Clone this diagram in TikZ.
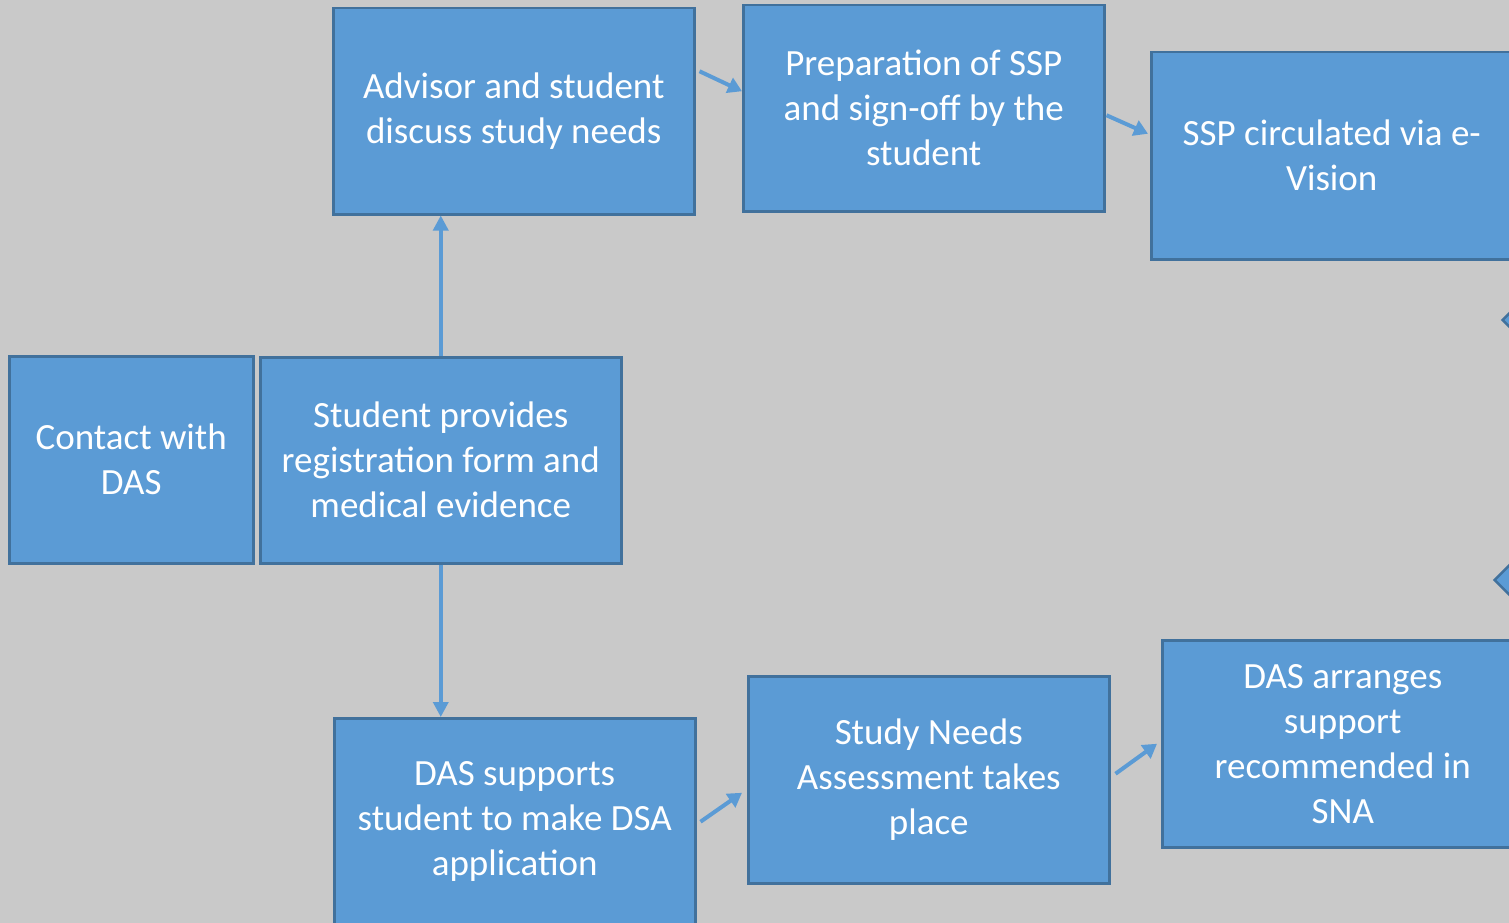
\documentclass[tikz,border=0pt]{standalone}
\usepackage{fontspec}
\setmainfont{Carlito}
\usetikzlibrary{calc,shapes.geometric,arrows.meta}
\definecolor{bg}{HTML}{C9C9C9}
\definecolor{boxfill}{HTML}{5B9BD5}
\definecolor{boxline}{HTML}{41719C}
\tikzset{
  x=1pt,y=-1pt,
  flowbox/.style={draw=boxline, line width=2.5pt, fill=boxfill, text=white, align=center,
    font=\fontsize{37}{45}\selectfont, inner sep=0pt, anchor=north west},
  arr/.style={draw=boxfill, line width=4pt, -{Triangle[length=14pt,width=16pt]}},
  varr/.style={draw=boxfill, line width=3.5pt, -{Triangle[length=15pt,width=15pt]}},
  dia/.style={diamond, draw=boxline, line width=2.5pt, fill=boxfill, minimum width=160pt, minimum height=160pt, inner sep=0pt}
}
\begin{document}
\begin{tikzpicture}
\fill[bg] (0,0) rectangle (1509,923);
\useasboundingbox (0,0) rectangle (1509,923);
\clip (0,0) rectangle (1509,923);
% boxes
\node[flowbox, minimum width=244pt, minimum height=207pt] (contact) at (8,355) {Contact with\\DAS};
\node[flowbox, minimum width=361pt, minimum height=206pt] (provide) at (259,356) {Student provides\\registration form and\\medical evidence};
\node[flowbox, minimum width=361pt, minimum height=206pt] (adv) at (332,7) {Advisor and student\\discuss study needs};
\node[flowbox, minimum width=361pt, minimum height=206pt] (prep) at (742,4) {Preparation of SSP\\and sign-off by the\\student};
\node[flowbox, minimum width=361pt, minimum height=207pt] (ssp) at (1150,51) {SSP circulated via e-\\Vision};
\node[flowbox, minimum width=361pt, minimum height=207pt] (supp) at (333,717) {DAS supports\\student to make DSA\\application};
\node[flowbox, minimum width=361pt, minimum height=207pt] (sna) at (747,675) {Study Needs\\Assessment takes\\place};
\node[flowbox, minimum width=361pt, minimum height=207pt] (arr) at (1161,639) {DAS arranges\\support\\recommended in\\SNA};
% partial diamonds at the right edge
\node[dia] (d1) at (1582,320) {};
\node[dia] (d2) at (1574,580) {};
% connectors
\draw[varr] (provide.north) -- (provide.north |- adv.south);
\draw[varr] (provide.south) -- (provide.south |- supp.north);
\draw[arr] ($(adv.east)+(4,-40)$) -- ($(prep.west)+(0,-17)$);
\draw[arr] ($(prep.east)+(1,7)$) -- ($(ssp.west)+(-2,-22)$);
\draw[arr] ($(supp.east)+(4,0)$) -- ($(sna.west)+(-5,13)$);
\draw[arr] ($(sna.east)+(5,-6)$) -- ($(arr.west)+(-4,0)$);
\end{tikzpicture}
\end{document}
